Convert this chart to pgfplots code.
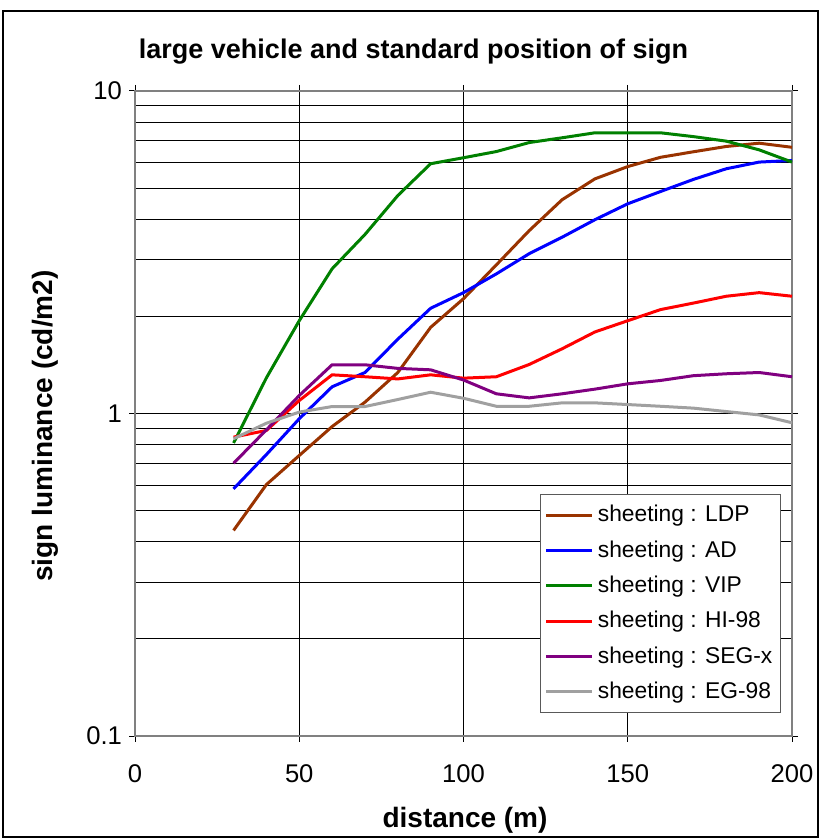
\documentclass[border=0pt]{standalone}
\usepackage{fontspec}
\setmainfont{Liberation Sans}
\usepackage{pgfplots}
\pgfplotsset{compat=1.18}
\definecolor{cLDP}{RGB}{153,51,0}
\definecolor{cAD}{RGB}{0,0,255}
\definecolor{cVIP}{RGB}{0,128,0}
\definecolor{cHI}{RGB}{255,0,0}
\definecolor{cSEG}{RGB}{128,0,128}
\definecolor{cEG}{RGB}{160,160,160}
\begin{document}
\begin{tikzpicture}
\useasboundingbox (-67.5pt,-51pt) rectangle (343pt,368pt);
\draw[black, line width=0.7pt] (-66pt,-50.5pt) rectangle (341.5pt,362.5pt);
\begin{axis}[
    at={(0,0)}, anchor=south west,
    scale only axis, width=328.5pt, height=322.5pt,
    xmin=0, xmax=200, ymin=0.1, ymax=10,
    ymode=log, log basis y=10,
    xtick={0,50,100,150,200},
    ytick={0.1,1,10}, yticklabels={0.1,1,10},
    minor ytick={0.2,0.3,0.4,0.5,0.6,0.7,0.8,0.9,2,3,4,5,6,7,8,9},
    grid=both,
    major grid style={black, line width=0.5pt},
    minor grid style={black, line width=0.5pt},
    axis line style={gray, line width=0.8pt},
    tick align=outside, major tick length=3pt, minor tick length=0pt,
    tick style={black, line width=0.5pt},
    /pgf/number format/assume math mode=true,
    ticklabel style={font=\fontsize{12.8}{14}\selectfont},
    xticklabel style={yshift=-8pt},
    legend style={at={(0.983,0.0357)}, anchor=south east,
        draw=gray!70!black, line width=0.5pt,
        font=\fontsize{11.4}{13}\selectfont, row sep=3.9pt,
        inner xsep=2pt, inner ysep=3.5pt},
    legend cell align=left,
    legend image code/.code={\draw[#1, line width=1.5pt] (0pt,0pt) -- (23pt,0pt);},
    every axis plot/.append style={line width=1.5pt, no marks, sharp plot},
]
\addplot[cLDP] coordinates {
    (30,0.434) (40,0.602) (50,0.741) (60,0.911) (70,1.084) (80,1.34)
    (90,1.85) (100,2.27) (110,2.89) (120,3.69) (130,4.60) (140,5.34)
    (150,5.83) (160,6.23) (170,6.48) (180,6.73) (190,6.89) (200,6.69)
};
\addlegendentry{sheeting : LDP}
\addplot[cAD] coordinates {
    (30,0.584) (40,0.746) (50,0.963) (60,1.21) (70,1.34) (80,1.70)
    (90,2.12) (100,2.37) (110,2.71) (120,3.13) (130,3.52) (140,3.99)
    (150,4.47) (160,4.88) (170,5.32) (180,5.74) (190,6.02) (200,6.09)
};
\addlegendentry{sheeting : AD}
\addplot[cVIP] coordinates {
    (30,0.81) (40,1.29) (50,1.94) (60,2.81) (70,3.59) (80,4.74)
    (90,5.95) (100,6.21) (110,6.49) (120,6.92) (130,7.16) (140,7.42)
    (150,7.42) (160,7.42) (170,7.22) (180,6.99) (190,6.57) (200,6.02)
};
\addlegendentry{sheeting : VIP}
\addplot[cHI] coordinates {
    (30,0.845) (40,0.886) (50,1.097) (60,1.318) (70,1.30) (80,1.28)
    (90,1.318) (100,1.287) (110,1.30) (120,1.419) (130,1.587) (140,1.79)
    (150,1.94) (160,2.10) (170,2.20) (180,2.31) (190,2.37) (200,2.31)
};
\addlegendentry{sheeting : HI-98}
\addplot[cSEG] coordinates {
    (30,0.701) (40,0.89) (50,1.137) (60,1.416) (70,1.416) (80,1.38)
    (90,1.366) (100,1.27) (110,1.151) (120,1.118) (130,1.151) (140,1.19)
    (150,1.236) (160,1.266) (170,1.31) (180,1.328) (190,1.34) (200,1.30)
};
\addlegendentry{sheeting : SEG-x}
\addplot[cEG] coordinates {
    (30,0.835) (40,0.933) (50,1.01) (60,1.051) (70,1.051) (80,1.105)
    (90,1.164) (100,1.115) (110,1.053) (120,1.053) (130,1.079) (140,1.079)
    (150,1.066) (160,1.053) (170,1.039) (180,1.014) (190,0.99) (200,0.936)
};
\addlegendentry{sheeting : EG-98}
\end{axis}
\node[font=\fontsize{13.5}{16}\selectfont\bfseries] at (139.25pt,342pt) {large vehicle and standard position of sign};
\node[font=\fontsize{14}{16}\selectfont\bfseries] at (165pt,-42pt) {distance (m)};
\node[font=\fontsize{14}{16}\selectfont\bfseries, rotate=90] at (-45pt,155pt) {sign luminance (cd/m2)};
\end{tikzpicture}
\end{document}
